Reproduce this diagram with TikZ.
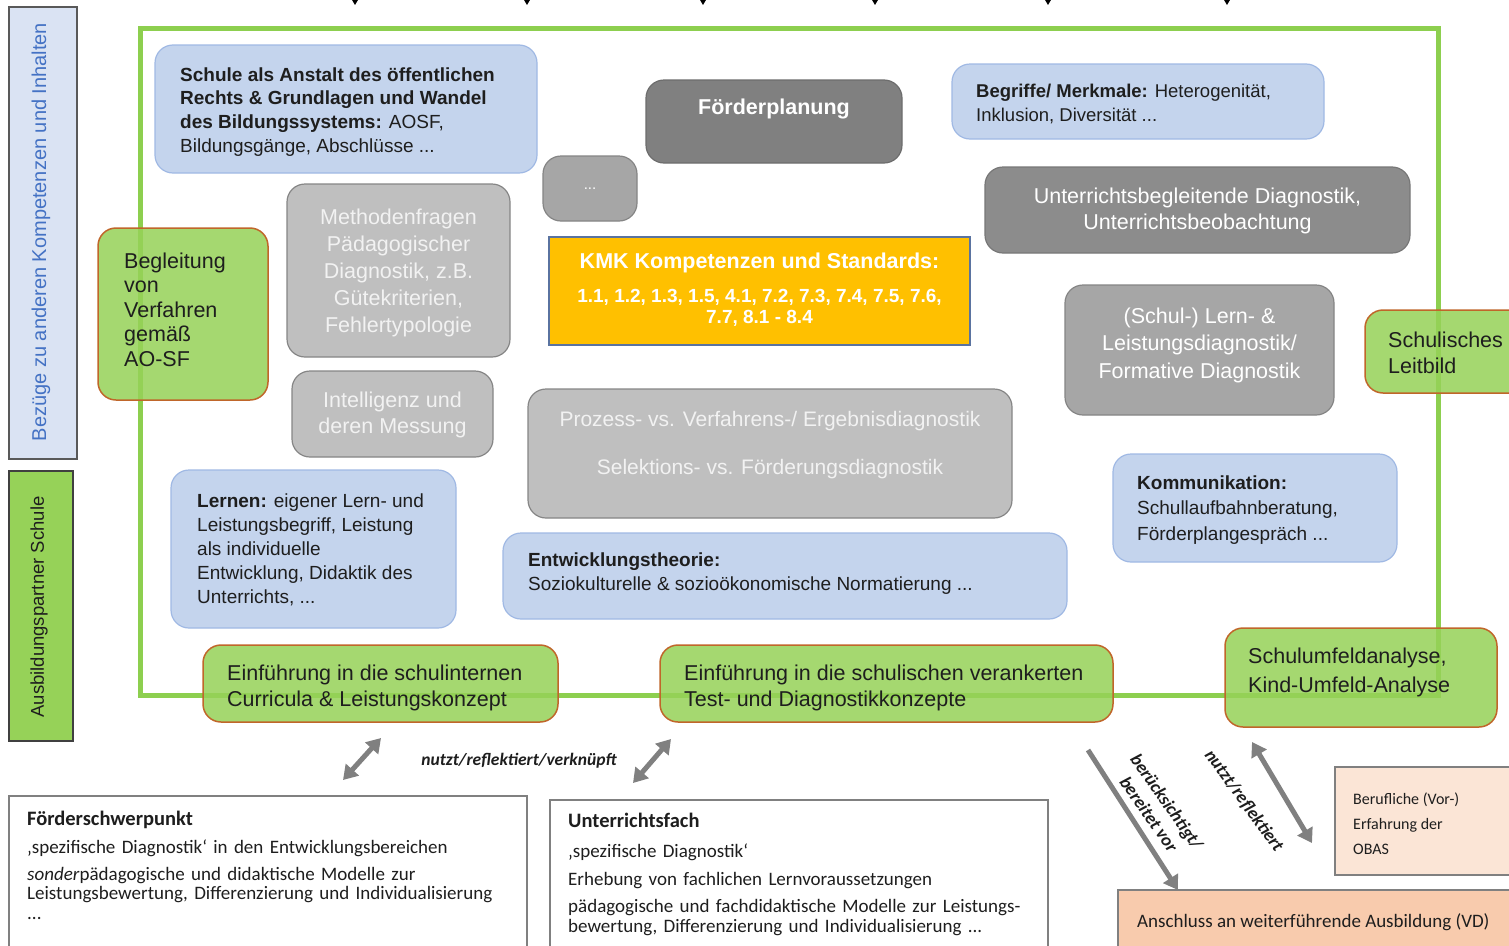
\documentclass[tikz,border=0pt]{standalone}
\usepackage{fontspec}
\setmainfont{Liberation Sans}
\newfontfamily\calfont{Carlito}
\usetikzlibrary{arrows.meta}
\definecolor{gframe}{RGB}{141,207,79}
\definecolor{gfill}{RGB}{150,210,88}
\definecolor{gborder}{RGB}{192,102,42}
\definecolor{bfill}{RGB}{196,212,237}
\definecolor{bborder}{RGB}{160,185,228}
\definecolor{dgrey}{RGB}{128,128,128}
\definecolor{dgrey2}{RGB}{140,140,140}
\definecolor{mgrey}{RGB}{166,166,166}
\definecolor{lgrey}{RGB}{191,191,191}
\definecolor{kmk}{RGB}{255,192,0}
\definecolor{kmkb}{RGB}{90,115,160}
\definecolor{arrowgrey}{RGB}{128,128,128}
\definecolor{peach}{RGB}{251,229,214}
\definecolor{salmon}{RGB}{248,203,173}
\definecolor{txtblue}{RGB}{68,114,196}
\definecolor{lightblue}{RGB}{218,227,243}
\definecolor{ink}{RGB}{30,30,30}
\newcommand\tst{\rule{0pt}{21pt}}
\newcommand\fsz[2]{\fontsize{#1}{#2}\selectfont}
\newcommand\drawbox[6]{\node[#2, minimum width={(#5)-(#3)}, minimum height={(#6)-(#4)}] (#1) at ({((#3)+(#5))/2},{((#4)+(#6))/2}) {};}
\tikzset{
  box/.style={draw, rounded corners=18pt, inner sep=0pt, line width=1.2pt},
  bbox/.style={box, fill=bfill, draw=bborder},
  dgbox/.style={box, fill=dgrey, draw=dgrey!85!black},
  dg2box/.style={box, fill=dgrey2, draw=dgrey2!85!black},
  mgbox/.style={box, fill=mgrey, draw=mgrey!80!black},
  lgreybox/.style={box, fill=lgrey, draw=lgrey!70!black},
  gbox/.style={box, fill=gfill, fill opacity=0.85, draw=gborder, line width=1.5pt},
  kmkbox/.style={draw=kmkb, fill=kmk, line width=2pt, inner sep=0pt},
  wbox/.style={draw=gray, fill=white, line width=1.2pt, inner sep=0pt},
  peachbox/.style={draw=gray, fill=peach, line width=1.2pt, inner sep=0pt},
  salmonbox/.style={draw=gray, fill=salmon, line width=1.2pt, inner sep=0pt},
  lbbox/.style={draw=black!65, fill=lightblue, line width=1.5pt, inner sep=0pt},
  lgbox/.style={draw=black!75, fill=gfill, line width=1.5pt, inner sep=0pt},
  tl/.style={inner sep=0pt, anchor=north west, align=left, text=ink, yshift=-7pt},
  tc/.style={inner sep=0pt, anchor=north, align=center, yshift=-7pt},
  garrow/.style={draw=arrowgrey, line width=5pt},
  toparrow/.style={draw=black, line width=1pt, -{Triangle[width=8pt,length=7pt]}},
}
\begin{document}
\begin{tikzpicture}[x=1pt,y=-1pt]
\useasboundingbox (0,0) rectangle (1509,945);
\fill[white] (0,0) rectangle (1509,945);

% incoming arrows at the top
\foreach \x [count=\i] in {355,527,703,875,1048,1227} {
  \coordinate (ts\i) at (\x,-30);
  \coordinate (te\i) at (\x,5);
  \draw[toparrow] (ts\i) -- (te\i);
}

% green frame
\draw[gframe, line width=5pt] (140,28) rectangle (1438,695);

% left vertical bars
\drawbox{bez}{lbbox}{9}{7}{77}{459}
\node[rotate=90, text=txtblue, font=\fsz{20}{24}] (bezt) at (41,232) {Bezüge zu anderen Kompetenzen und Inhalten};
\drawbox{ausb}{lgbox}{9}{471}{73}{741}
\node[rotate=90, text=ink, font=\fsz{18.5}{22}] (ausbt) at (39,607) {Ausbildungspartner Schule};

% boxes
\drawbox{schule}{bbox}{155}{45}{537}{173}
\node[tl, font=\fsz{19}{23.7}] (schulet) at (180,53) {\tst\textbf{Schule als Anstalt des öffentlichen}\\\textbf{Rechts \& Grundlagen und Wandel}\\\textbf{des Bildungssystems:} AOSF,\\Bildungsgänge, Abschlüsse ...};

\drawbox{foerder}{dgbox}{646}{80}{902}{163}
\node[tc, text=white, font=\fsz{21.5}{25}\bfseries] (foerdert) at (774,86) {\tst Förderplanung};

\drawbox{dots}{mgbox}{543}{156}{637}{221}
\node[text=white, font=\fsz{15}{18}] (dotst) at (590,189) {...};

\drawbox{begr}{bbox}{952}{64}{1324}{139}
\node[tl, font=\fsz{18.5}{24}] (begrt) at (976,69) {\tst\textbf{Begriffe/ Merkmale:} Heterogenität,\\Inklusion, Diversität ...};

\drawbox{meth}{lgreybox}{287}{184}{510}{357}
\node[tc, text=white!95!black, font=\fsz{21.5}{27}] (metht) at (398.5,196) {\tst Methodenfragen\\Pädagogischer\\Diagnostik, z.B.\\Gütekriterien,\\Fehlertypologie};

\drawbox{ubd}{dg2box}{985}{167}{1410}{253}
\node[tc, text=white, font=\fsz{21.5}{26}] (ubdt) at (1197.5,175) {\tst Unterrichtsbegleitende Diagnostik,\\Unterrichtsbeobachtung};

\drawbox{begl}{gbox}{98}{228}{268}{400}
\node[tl, font=\fsz{21.5}{24.5}] (beglt) at (124,240) {\tst Begleitung\\von\\Verfahren\\gemäß\\AO-SF};

\drawbox{kmk}{kmkbox}{549}{237}{970}{345}
\node[tc, text=white, font=\fsz{21.5}{25}\bfseries] (kmkt) at (759.5,240) {\tst KMK Kompetenzen und Standards:};
\node[tc, text=white, font=\fsz{19}{21}\bfseries] (kmkn) at (759.5,274) {\tst 1.1, 1.2, 1.3, 1.5, 4.1, 7.2, 7.3, 7.4, 7.5, 7.6,\\7.7, 8.1 - 8.4};

\drawbox{slern}{mgbox}{1065}{285}{1334}{415}
\node[tc, text=white, font=\fsz{21.5}{27.5}] (slernt) at (1199.5,295) {\tst (Schul-) Lern- \&\\Leistungsdiagnostik/\\Formative Diagnostik};

\drawbox{leit}{gbox}{1365}{310}{1560}{393}
\node[tl, font=\fsz{21.5}{26}] (leitt) at (1388,319) {\tst Schulisches\\Leitbild};

\drawbox{intel}{lgreybox}{292}{371}{493}{457}
\node[tc, text=white!95!black, font=\fsz{21.5}{26}] (intelt) at (392.5,379) {\tst Intelligenz und\\deren Messung};

\drawbox{proz}{lgreybox}{528}{389}{1012}{518}
\node[tc, text=white!95!black, font=\fsz{21}{48}] (prozt) at (770,398) {\tst Prozess- vs. Verfahrens-/ Ergebnisdiagnostik\\Selektions- vs. Förderungsdiagnostik};

\drawbox{lern}{bbox}{171}{470}{456}{628}
\node[tl, font=\fsz{19}{24}] (lernt) at (197,479) {\tst\textbf{Lernen:} eigener Lern- und\\Leistungsbegriff, Leistung\\als individuelle\\Entwicklung, Didaktik des\\Unterrichts, ...};

\drawbox{entw}{bbox}{503}{533}{1067}{619}
\node[tl, font=\fsz{19}{24}] (entwt) at (528,538) {\tst\textbf{Entwicklungstheorie:}\\Soziokulturelle \& sozioökonomische Normatierung ...};

\drawbox{komm}{bbox}{1113}{454}{1397}{562}
\node[tl, font=\fsz{19}{25.5}] (kommt) at (1137,461) {\tst\textbf{Kommunikation:}\\Schullaufbahnberatung,\\Förderplangespräch ...};

\drawbox{ein1}{gbox}{203}{645}{558}{722}
\node[tl, font=\fsz{21.5}{26}] (ein1t) at (227,652) {\tst Einführung in die schulinternen\\Curricula \& Leistungskonzept};

\drawbox{ein2}{gbox}{660}{645}{1113}{722}
\node[tl, font=\fsz{21.5}{26}] (ein2t) at (684,652) {\tst Einführung in die schulischen verankerten\\Test- und Diagnostikkonzepte};

\drawbox{umf}{gbox}{1225}{628}{1497}{727}
\node[tl, font=\fsz{21.5}{29}] (umft) at (1248,635) {\tst Schulumfeldanalyse,\\Kind-Umfeld-Analyse};

% bottom boxes
\drawbox{fs}{wbox}{9}{796}{527}{990}
\node[tl, text width=495pt, font=\calfont\fsz{19}{19.5}] (fst) at (27,797) {\tst{\fsz{20.5}{19.5}\bfseries Förderschwerpunkt}\\[8.5pt]‚spezifische Diagnostik‘ in den Entwicklungsbereichen\\[7.5pt]\textit{sonder}pädagogische und didaktische Modelle zur\\Leistungsbewertung, Differenzierung und Individualisierung\\...};

\drawbox{uf}{wbox}{550}{800}{1048}{990}
\node[tl, text width=475pt, font=\calfont\fsz{19}{20}] (uft) at (568,799) {\tst{\fsz{20.5}{20}\bfseries Unterrichtsfach}\\[10pt]‚spezifische Diagnostik‘\\[8pt]Erhebung von fachlichen Lernvoraussetzungen\\[7pt]pädagogische und fachdidaktische Modelle zur Leistungs-\\bewertung, Differenzierung und Individualisierung ...};

\drawbox{beruf}{peachbox}{1335}{767}{1540}{875}
\node[tl, font=\calfont\fsz{16}{25}] (beruft) at (1353,776) {\tst Berufliche (Vor-)\\Erfahrung der\\OBAS};

\drawbox{ansch}{salmonbox}{1118}{890}{1540}{990}
\node[tl, font=\calfont\fsz{19}{22}] (anscht) at (1137,899) {\tst Anschluss an weiterführende Ausbildung (VD)};

% connectors
\coordinate (a1s) at (343,780); \coordinate (a1e) at (381,738);
\coordinate (a2s) at (633,783); \coordinate (a2e) at (671,739);
\coordinate (a3s) at (1088,750); \coordinate (a3e) at (1178,890);
\coordinate (a4s) at (1252,742); \coordinate (a4e) at (1312,843);
\draw[garrow, {Triangle[width=17pt,length=14pt]}-{Triangle[width=17pt,length=14pt]}] (a1s) -- (a1e);
\draw[garrow, {Triangle[width=17pt,length=14pt]}-{Triangle[width=17pt,length=14pt]}] (a2s) -- (a2e);
\draw[garrow, -{Triangle[width=17pt,length=14pt]}] (a3s) -- (a3e);
\draw[garrow, {Triangle[width=17pt,length=14pt]}-{Triangle[width=17pt,length=14pt]}] (a4s) -- (a4e);

\node[text=ink, font=\calfont\fsz{17.5}{20}\bfseries\itshape] (lab1) at (519,761) {nutzt/reflektiert/verknüpft};
\node[rotate=-55, align=center, text=ink, font=\calfont\fsz{18}{22}\bfseries\itshape] (lab2) at (1158,808) {berücksichtigt/\\bereitet vor};
\node[rotate=-54, text=ink, font=\calfont\fsz{18}{22}\bfseries\itshape] (lab3) at (1244,801) {nutzt/reflektiert};
\end{tikzpicture}
\end{document}
